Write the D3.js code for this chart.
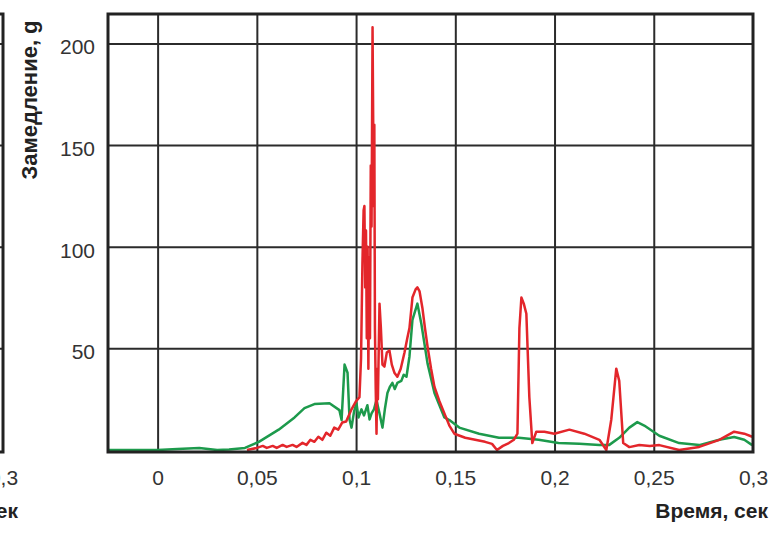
<!DOCTYPE html>
<html>
<head>
<meta charset="utf-8">
<script src="https://cdn.jsdelivr.net/npm/d3@7"></script>
<style>
  body { margin: 0; background: #fff; }
  svg { display: block; font-family: "Liberation Sans", Arial, sans-serif; }
</style>
</head>
<body>
<div id="chart"></div>
<script>
// deceleration vs time, two sensors (red / green)
const xTicks = [0, 0.05, 0.1, 0.15, 0.2, 0.25, 0.3]
const yTicks = [50, 100, 150, 200]

// [time, g]
const green = [
  [-0.025, 0], [0.000, 0], [0.010, 0.5], [0.021, 1], [0.030, 0], [0.036, 0.2],
  [0.044, 1], [0.051, 4], [0.061, 10], [0.069, 16], [0.074, 20.6], [0.079, 22.6],
  [0.0866, 23], [0.0916, 19.6], [0.0927, 14.7], [0.0942, 42], [0.0957, 38], [0.0967, 15],
  [0.0977, 11], [0.0990, 19], [0.1002, 23], [0.1012, 16], [0.1027, 20], [0.1040, 17],
  [0.1057, 22], [0.1068, 15], [0.1078, 18], [0.1090, 20], [0.1103, 24.5],
  [0.1118, 18], [0.1133, 11], [0.1145, 20], [0.1158, 28], [0.1170, 31], [0.1183, 33],
  [0.1195, 30], [0.1208, 33], [0.1228, 34], [0.1240, 37], [0.1254, 36], [0.1269, 46],
  [0.1284, 64], [0.1309, 72], [0.1329, 62], [0.1360, 42.6],
  [0.1395, 28], [0.1420, 22], [0.1445, 16], [0.147, 14.7], [0.152, 11], [0.162, 8],
  [0.172, 6], [0.182, 6], [0.192, 5], [0.202, 3.4], [0.2125, 3], [0.2226, 2.5],
  [0.2276, 2.5], [0.2326, 6], [0.2377, 11], [0.2417, 13.7], [0.2452, 12], [0.2528, 7],
  [0.2628, 3.4], [0.2729, 2.4], [0.2830, 5], [0.2905, 6.4], [0.2956, 5], [0.2996, 2.4]
]

const red = [
  [0.045, 0], [0.050, 1], [0.053, 2], [0.055, 1], [0.058, 2], [0.060, 1], [0.063, 2.5],
  [0.065, 1.5], [0.068, 2.5], [0.070, 1.5], [0.073, 3.5], [0.075, 2.5], [0.077, 5],
  [0.079, 4], [0.081, 6.5], [0.083, 5], [0.085, 8.5], [0.087, 7], [0.089, 11],
  [0.091, 10], [0.093, 13.5], [0.095, 14], [0.0977, 20], [0.1000, 24], [0.1017, 26],
  [0.1025, 45], [0.1032, 92], [0.1038, 118], [0.1042, 120], [0.1046, 80], [0.1050, 108],
  [0.1054, 55], [0.1058, 100], [0.1062, 40], [0.1066, 95], [0.1070, 55], [0.1074, 140],
  [0.1078, 110], [0.1083, 208], [0.1086, 165], [0.1089, 120], [0.1092, 160], [0.1095, 60],
  [0.1099, 30], [0.1103, 8], [0.1107, 40], [0.1110, 25], [0.1118, 72], [0.1125, 60],
  [0.1133, 42], [0.1143, 41], [0.1155, 48], [0.1168, 49], [0.1180, 42], [0.1193, 38],
  [0.1208, 36], [0.1225, 40], [0.1244, 48], [0.1258, 55], [0.1269, 60], [0.1284, 75],
  [0.1300, 79], [0.1309, 80], [0.1320, 78], [0.1334, 70], [0.1347, 60], [0.1360, 51],
  [0.1378, 40], [0.1395, 31], [0.1420, 24], [0.1445, 18], [0.147, 12], [0.1495, 8],
  [0.155, 6], [0.160, 5], [0.165, 4], [0.1685, 3], [0.171, 0], [0.174, 2],
  [0.177, 3.4], [0.1795, 5], [0.1813, 8], [0.1823, 60], [0.1833, 75], [0.1845, 72],
  [0.1858, 67], [0.1873, 26], [0.1888, 3.4], [0.1908, 9], [0.1949, 9], [0.1999, 8],
  [0.2075, 10], [0.2150, 8], [0.2226, 5], [0.2261, 0], [0.2286, 15], [0.2311, 40],
  [0.2326, 34], [0.2346, 3.4], [0.2377, 1.4], [0.2427, 2.4], [0.2480, 2], [0.2528, 2.4],
  [0.2628, 0], [0.2729, 1.5], [0.2830, 5], [0.2905, 9], [0.2956, 8], [0.2996, 6.5]
]

const W = 781, H = 535
const MARGIN = {TOP: 14, BOTTOM: 83, LEFT: 108, RIGHT: 28}
const WIDTH = W - MARGIN.LEFT - MARGIN.RIGHT
const HEIGHT = H - MARGIN.TOP - MARGIN.BOTTOM
const fmt = d => String(d).replace('.', ',')

const x = d3.scaleLinear().domain([-0.025, 0.3]).range([0, WIDTH])
const y = d3.scaleLinear().domain([-1, 214.5]).range([HEIGHT, 0])

const svg = d3.select('#chart').append('svg')
  .attr('width', W)
  .attr('height', H)

// draws frame, grid and x labels; offset lets us show the cut-off neighbour panel on the left
function panel(offsetX, withData) {
  const g = svg.append('g')
    .attr('transform', `translate(${MARGIN.LEFT + offsetX}, ${MARGIN.TOP})`)

  // grid
  g.append('g')
    .attr('class', 'grid')
    .attr('transform', `translate(0, ${HEIGHT})`)
    .call(d3.axisBottom(x).tickValues(xTicks.slice(0, -1)).tickSize(-HEIGHT).tickFormat(''))
  g.append('g')
    .attr('class', 'grid')
    .call(d3.axisLeft(y).tickValues(yTicks).tickSize(-WIDTH).tickFormat(''))
  g.selectAll('.grid .domain').remove()
  g.selectAll('.grid line').attr('stroke', '#2b2b2b').attr('stroke-width', 2)

  // x labels (neighbour panel only shows its last one)
  const xAxis = g.append('g')
    .attr('transform', `translate(0, ${HEIGHT})`)
    .call(d3.axisBottom(x).tickValues(withData ? xTicks : xTicks.slice(-1))
      .tickSize(0).tickPadding(18).tickFormat(fmt))
  xAxis.select('.domain').remove()
  xAxis.selectAll('text')
    .attr('font-size', 21)
    .attr('font-family', '"Liberation Sans", Arial, sans-serif')
    .attr('fill', '#333')

  g.append('text')
    .attr('x', WIDTH + 15)
    .attr('y', HEIGHT + 66)
    .attr('text-anchor', 'end')
    .attr('font-size', 21)
    .attr('font-weight', 'bold')
    .attr('fill', '#222')
    .text('Время, сек')

  if (withData) {
    const line = d3.line()
      .x(d => x(d[0]))
      .y(d => y(d[1]))

    g.append('clipPath').attr('id', 'clip')
      .append('rect').attr('width', WIDTH).attr('height', HEIGHT)

    g.append('path')
      .datum(green)
      .attr('clip-path', 'url(#clip)')
      .attr('fill', 'none')
      .attr('stroke', '#1d9a4c')
      .attr('stroke-width', 2.5)
      .attr('stroke-linejoin', 'round')
      .attr('d', line)

    g.append('path')
      .datum(red)
      .attr('clip-path', 'url(#clip)')
      .attr('fill', 'none')
      .attr('stroke', '#e3262b')
      .attr('stroke-width', 2.5)
      .attr('stroke-linejoin', 'round')
      .attr('d', line)

    // y labels and title
    const yAxis = g.append('g')
      .call(d3.axisLeft(y).tickValues(yTicks).tickSize(0).tickPadding(13))
    yAxis.select('.domain').remove()
    yAxis.selectAll('text')
      .attr('font-size', 21)
      .attr('font-family', '"Liberation Sans", Arial, sans-serif')
      .attr('fill', '#333')
      .attr('dy', '0.5em')

    g.append('text')
      .attr('transform', 'rotate(-90)')
      .attr('x', -86)
      .attr('y', -71)
      .attr('text-anchor', 'middle')
      .attr('font-size', 22)
      .attr('font-weight', 'bold')
      .attr('fill', '#222')
      .text('Замедление, g')
  }

  // frame
  g.append('rect')
    .attr('width', WIDTH)
    .attr('height', HEIGHT)
    .attr('fill', 'none')
    .attr('stroke', '#222')
    .attr('stroke-width', 3)
}

panel(-750, false)
panel(0, true)
</script>
</body>
</html>
